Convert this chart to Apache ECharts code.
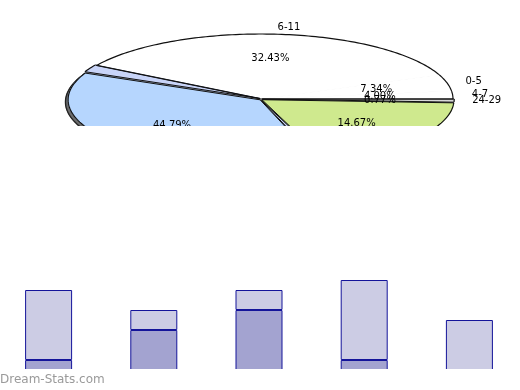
<!DOCTYPE html>
<html><head><meta charset="utf-8">
<script src="https://cdn.jsdelivr.net/npm/echarts@6/dist/echarts.min.js"></script>
<style>
html,body{margin:0;padding:0;background:#fff;}
#mark{position:absolute;left:0;top:0;width:520px;height:390px;}
#barclip{position:absolute;left:0;top:0;width:493px;height:369px;overflow:hidden;}
#bars{position:absolute;left:-4px;top:0;width:526px;height:370px;}
#pie{position:absolute;left:0;top:0;width:520px;height:126px;}
</style></head><body>
<div id="mark"></div><div id="barclip"><div id="bars"></div></div><div id="pie"></div>
<script>
// ---- Pie data (angular share of each drawn slice) ----
const pieCategories = ["4-7", "0-5", "6-11", "", "12-17", "", "18-23", "24-29"];
const pieShares     = [1.94, 4.17, 35.28, 1.86, 36.64, 0.56, 18.78, 0.77];
const pieLabels     = ["4.00%", "7.34%", "32.43%", "", "44.79%", "", "14.67%", "0.77%"];

// ---- Bar data ----
const barCategories = ["1", "2", "3", "4", "5"];
const barLower = [1, 4, 6, 1, 0];
const barUpper = [7, 2, 2, 8, 5];

const pieColors = ["#ffffff", "#ffffff", "#ffffff", "#c8d4f8", "#b6d6fe", "#c8d4f8", "#cfe98e", "#d8d8d8"];

const CX = 261, CY = 99, RX = 192, RY = 65, SHX = -3.5, SHY = 3;
const total = pieShares.reduce((a, b) => a + b, 0);
const startAngles = [];
(function(){ let acc = 0; pieShares.forEach(v => { startAngles.push(acc / total * 2 * Math.PI); acc += v; }); })();

const FONT = '10px "DejaVu Sans"';

function renderSlice(params, api) {
  const i = params.dataIndex;
  const n0 = pieShares.length;
  const share = api.value(0);
  const a0 = startAngles[i], a1 = a0 + share / total * 2 * Math.PI;
  const mid = (a0 + a1) / 2;
  const color = pieColors[i];
  const ex = color === '#ffffff' ? 0 : 1.2 * Math.cos(mid);
  const ey = color === '#ffffff' ? 0 : -1.2 * Math.sin(mid);
  const rim = [], srim = [];
  const n = Math.max(1, Math.ceil((a1 - a0) / 0.02));
  for (let k = 0; k <= n; k++) {
    const t = a0 + (a1 - a0) * k / n;
    rim.push([CX + ex + RX * Math.cos(t), CY + ey - RY * Math.sin(t)]);
    srim.push([CX + SHX + RX * Math.cos(t), CY + SHY - RY * Math.sin(t)]);
  }
  const c = [CX + ex, CY + ey];
  const face = [c].concat(rim);
  const shadow = [[CX + SHX, CY + SHY]].concat(srim);
  const prevC = pieColors[(i - 1 + n0) % n0], nextC = pieColors[(i + 1) % n0];
  const children = [
    {type: 'polygon', shape: {points: shadow}, style: {fill: '#6c6c6c', stroke: '#6c6c6c', lineWidth: 1}, z2: 1},
    {type: 'polyline', shape: {points: srim}, style: {fill: null, stroke: '#222', lineWidth: 1.4}, z2: 2},
    {type: 'polygon', shape: {points: face}, style: {fill: color, stroke: color, lineWidth: 1}, z2: 10},
    {type: 'polyline', shape: {points: rim}, style: {fill: null, stroke: '#111', lineWidth: 1.2}, z2: 11}
  ];
  if (prevC !== color) children.push({type: 'line', shape: {x1: c[0], y1: c[1], x2: rim[0][0], y2: rim[0][1]}, style: {stroke: '#111', lineWidth: 1}, z2: 11});
  if (nextC !== color) children.push({type: 'line', shape: {x1: c[0], y1: c[1], x2: rim[rim.length - 1][0], y2: rim[rim.length - 1][1]}, style: {stroke: '#111', lineWidth: 1}, z2: 11});
  if (pieLabels[i]) {
    children.push({type: 'text', x: CX + 0.62 * RX * Math.cos(mid), y: CY - 0.62 * RY * Math.sin(mid),
      style: {text: pieLabels[i], font: FONT, fill: '#000', align: 'center', verticalAlign: 'middle'}, z2: 20});
  }
  if (pieCategories[i]) {
    const cs = Math.cos(mid);
    children.push({type: 'text', x: CX + 1.1 * RX * cs, y: CY - 1.1 * RY * Math.sin(mid),
      style: {text: pieCategories[i], font: FONT, fill: '#000', align: cs >= 0 ? 'left' : 'right', verticalAlign: 'middle'}, z2: 20});
  }
  return {type: 'group', children};
}

const mark = echarts.init(document.getElementById('mark'), null, {renderer: 'canvas'});
mark.setOption({
  animation: false,
  graphic: [{type: 'text', left: 0, top: 374,
    style: {text: 'Dream-Stats.com', font: '12px "DejaVu Sans"', fill: '#9a9a9a'}}]
});

const pie = echarts.init(document.getElementById('pie'), null, {renderer: 'canvas'});
pie.setOption({
  animation: false,
  series: [{type: 'custom', coordinateSystem: 'none', renderItem: renderSlice,
    data: pieShares.map(v => [v])}]
});

const bars = echarts.init(document.getElementById('bars'), null, {renderer: 'canvas'});
bars.setOption({
  animation: false,
  grid: {left: 0, right: 0, top: 270, bottom: 0},
  xAxis: {type: 'category', data: barCategories, show: false},
  yAxis: {type: 'value', min: 0, max: 10, show: false},
  series: [
    {type: 'bar', stack: 's', barWidth: 47,
     itemStyle: {color: '#a3a3d0', borderColor: '#14149a', borderWidth: 1},
     data: barLower},
    {type: 'bar', stack: 's', barWidth: 47,
     itemStyle: {color: '#ccccE4', borderColor: '#14149a', borderWidth: 1},
     data: barUpper}
  ]
});
</script>
</body></html>
